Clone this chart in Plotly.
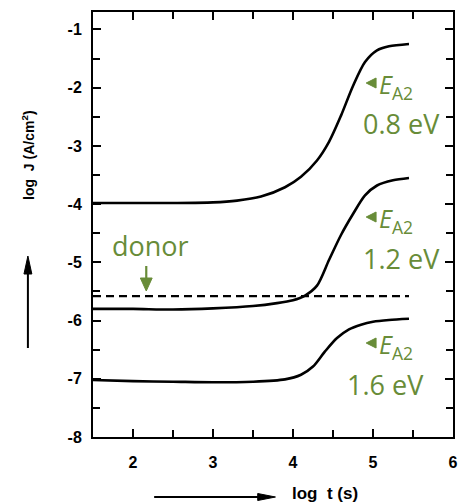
import plotly.graph_objects as go

# ---- data ----
t_08 = [1.5, 2.0, 2.5, 3.0, 3.3, 3.6, 3.9, 4.1, 4.3, 4.45, 4.6, 4.75, 4.9, 5.05, 5.2, 5.45]
j_08 = [-3.98, -3.98, -3.98, -3.97, -3.94, -3.87, -3.71, -3.53, -3.25, -2.93, -2.48, -1.97, -1.56, -1.36, -1.29, -1.25]

t_12 = [1.5, 2.0, 2.5, 3.0, 3.5, 3.8, 4.0, 4.15, 4.3, 4.45, 4.6, 4.75, 4.9, 5.05, 5.25, 5.45]
j_12 = [-5.80, -5.80, -5.81, -5.79, -5.75, -5.70, -5.65, -5.57, -5.40, -4.96, -4.53, -4.17, -3.85, -3.68, -3.59, -3.55]

t_16 = [1.5, 2.0, 2.5, 3.0, 3.5, 3.9, 4.1, 4.25, 4.4, 4.55, 4.7, 4.85, 5.0, 5.2, 5.45]
j_16 = [-7.02, -7.04, -7.05, -7.06, -7.05, -7.01, -6.93, -6.79, -6.53, -6.30, -6.15, -6.07, -6.02, -5.99, -5.97]

t_donor = [1.5, 5.45]
j_donor = [-5.58, -5.58]

x_ticks = [2, 3, 4, 5, 6]
x_ticktext = ["2", "3", "4", "5", "6"]
y_ticks = [-1, -2, -3, -4, -5, -6, -7, -8]
y_ticktext = ["-1", "-2", "-3", "-4", "-5", "-6", "-7", "-8"]

labels = ["0.8 eV", "1.2 eV", "1.6 eV"]

GREEN = "rgb(104,140,56)"
W, H = 464, 504
L, R, T, B = 93, 458, 12, 437


def px(x):
    return (x - L) / (R - L)


def py(y):
    return (B - y) / (B - T)


fig = go.Figure()
line = dict(color="black", width=2.6, shape="spline", smoothing=0.8)
for tx, jy in [(t_08, j_08), (t_12, j_12), (t_16, j_16)]:
    fig.add_trace(go.Scatter(x=tx, y=jy, mode="lines", line=line, hoverinfo="skip"))
fig.add_trace(go.Scatter(x=t_donor, y=j_donor, mode="lines",
                         line=dict(color="black", width=2.2, dash="8px,5px"), hoverinfo="skip"))

axis_common = dict(showline=True, linecolor="black", linewidth=2, mirror="ticks",
                   ticks="inside", ticklen=8, tickwidth=2, tickcolor="black",
                   showgrid=False, zeroline=False,
                   tickfont=dict(family="Liberation Sans", size=16, color="black", weight="bold"),
                   minor=dict(dtick=0.5, ticks="inside", ticklen=7, tickwidth=2, tickcolor="black", showgrid=False))

fig.update_xaxes(range=[1.5, 6], tickvals=x_ticks, ticktext=x_ticktext, ticklabelstandoff=10, **axis_common)
fig.update_yaxes(range=[-8, -0.7], tickvals=y_ticks, ticktext=y_ticktext, ticklabelstandoff=6, **axis_common)

ann = []
shapes = []


def tri(p1, p2, p3, color):
    path = "M {} {} L {} {} L {} {} Z".format(px(p1[0]), py(p1[1]), px(p2[0]), py(p2[1]), px(p3[0]), py(p3[1]))
    return dict(type="path", xref="paper", yref="paper", path=path,
                fillcolor=color, line=dict(color=color, width=1))


def seg(x0, y0, x1, y1, color, w):
    return dict(type="line", xref="paper", yref="paper", x0=px(x0), y0=py(y0), x1=px(x1), y1=py(y1),
                line=dict(color=color, width=w))


# label groups: (triangle y center, E-line y, eV center y, eV left x)
groups = [(83, 86, 123, 367), (217, 220, 258, 367), (343, 346, 384, 350)]
for (ty, ey, vy, vx), lab in zip(groups, labels):
    shapes.append(tri((370, ty), (380, ty - 5), (380, ty + 5), GREEN))
    ann.append(dict(x=px(381), y=py(ey), xref="paper", yref="paper", text="<i>E</i><sub>A2</sub>",
                    showarrow=False, xanchor="left", yanchor="middle", height=30,
                    font=dict(family="Open Sans", size=25, color=GREEN)))
    ann.append(dict(x=px(vx - 2), y=py(vy), xref="paper", yref="paper", text=lab,
                    showarrow=False, xanchor="left", yanchor="middle", height=30,
                    font=dict(family="Open Sans", size=27, color=GREEN)))

# donor label and arrow
ann.append(dict(x=px(151), y=py(246), xref="paper", yref="paper", text="donor",
                showarrow=False, xanchor="center", yanchor="middle",
                font=dict(family="Open Sans", size=27, color=GREEN)))
shapes.append(seg(147, 266, 147, 281, GREEN, 2.2))
shapes.append(tri((147, 291), (141, 278), (153, 278), GREEN))

# axis titles with arrows
ann.append(dict(x=px(27), y=py(155), xref="paper", yref="paper", text="log  J (A/cm<sup>2</sup>)",
                showarrow=False, textangle=-90, xanchor="center", yanchor="middle",
                font=dict(family="Liberation Sans", size=14, color="black", weight="bold")))
shapes.append(seg(27, 348, 27, 268, "black", 2))
shapes.append(tri((27, 256), (23, 274), (31, 274), "black"))

ann.append(dict(x=px(328), y=py(494), xref="paper", yref="paper", text="log  t (s)",
                showarrow=False, xanchor="center", yanchor="middle",
                font=dict(family="Liberation Sans", size=17, color="black", weight="bold")))
shapes.append(seg(155, 497, 264, 497, "black", 2))
shapes.append(tri((278, 497), (260, 493.5), (260, 500.5), "black"))

fig.update_layout(width=W, height=H, margin=dict(l=L, r=W - R, t=T, b=H - B),
                  plot_bgcolor="white", paper_bgcolor="white", showlegend=False,
                  annotations=ann, shapes=shapes)

fig.write_html("out.html", config={"displayModeBar": False},
               post_script="document.body.style.margin='0';document.body.style.overflow='hidden';")
